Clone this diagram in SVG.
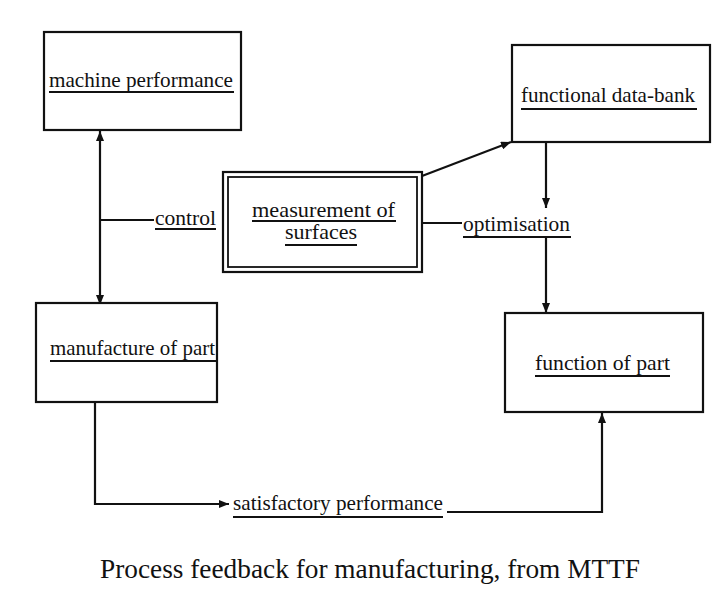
<svg xmlns="http://www.w3.org/2000/svg" width="716" height="598" viewBox="0 0 716 598">
<style>
.box{fill:#fff;stroke:#111;stroke-width:2.2}
.t{font-family:'Liberation Serif','Times New Roman',Times,serif;font-size:21px;fill:#111}
.ul{stroke:#111;stroke-width:1.8}
.c{stroke:#111;stroke-width:2.2;fill:none}
.cap{font-family:'Liberation Serif','Times New Roman',Times,serif;font-size:27px;fill:#111}
</style>
<defs>
<marker id="ah" viewBox="0 0 10 8" refX="10" refY="4" markerWidth="10" markerHeight="8" markerUnits="userSpaceOnUse" orient="auto-start-reverse">
<path d="M0,0 L10,4 L0,8 z" fill="#111"/>
</marker>
</defs>
<rect width="716" height="598" fill="#fff"/>
<g id="connectors">
<line class="c" x1="100" y1="131" x2="100" y2="305" marker-start="url(#ah)" marker-end="url(#ah)"/>
<line class="c" x1="100" y1="220" x2="154" y2="220"/>
<line class="c" x1="422" y1="223" x2="462" y2="223"/>
<line class="c" x1="422" y1="176" x2="511" y2="142" marker-end="url(#ah)"/>
<line class="c" x1="546" y1="142" x2="546" y2="208" marker-end="url(#ah)"/>
<line class="c" x1="546" y1="237" x2="546" y2="313" marker-end="url(#ah)"/>
<polyline class="c" points="95,403 95,504 229,504" marker-end="url(#ah)"/>
<polyline class="c" points="447,512 602,512 602,413" marker-end="url(#ah)"/>
<text class="t" x="155" y="225" textLength="61" lengthAdjust="spacingAndGlyphs">control</text>
<line class="ul" x1="155" y1="229" x2="216" y2="229"/>
<text class="t" x="463" y="231" textLength="107" lengthAdjust="spacingAndGlyphs">optimisation</text>
<line class="ul" x1="463" y1="237" x2="571" y2="237"/>
<text class="t" x="233" y="510" textLength="210" lengthAdjust="spacingAndGlyphs">satisfactory performance</text>
<line class="ul" x1="233" y1="517" x2="443" y2="517"/>
</g>
<g id="machine-performance">
<rect class="box" x="44" y="32" width="197" height="98"/>
<text class="t" x="49" y="87" textLength="184" lengthAdjust="spacingAndGlyphs">machine performance</text>
<line class="ul" x1="49" y1="92" x2="234" y2="92"/>
</g>
<g id="functional-data-bank">
<rect class="box" x="512" y="45" width="198" height="97"/>
<text class="t" x="521" y="102" textLength="174" lengthAdjust="spacingAndGlyphs">functional data-bank</text>
<line class="ul" x1="521" y1="109" x2="697" y2="109"/>
</g>
<g id="measurement-of-surfaces">
<rect class="box" x="223" y="172" width="199" height="100"/>
<rect x="228" y="177" width="189" height="90" fill="none" stroke="#111" stroke-width="1.8"/>
<text class="t" x="252" y="217" textLength="143" lengthAdjust="spacingAndGlyphs">measurement of</text>
<line class="ul" x1="252" y1="221" x2="396" y2="221"/>
<text class="t" x="285" y="239" textLength="72" lengthAdjust="spacingAndGlyphs">surfaces</text>
<line class="ul" x1="285" y1="245" x2="357" y2="245"/>
</g>
<g id="manufacture-of-part">
<rect class="box" x="36" y="303" width="181" height="99"/>
<text class="t" x="50" y="355" textLength="165" lengthAdjust="spacingAndGlyphs">manufacture of part</text>
<line class="ul" x1="50" y1="361" x2="216" y2="361"/>
</g>
<g id="function-of-part">
<rect class="box" x="505" y="313" width="198" height="99"/>
<text class="t" x="535" y="370" textLength="135" lengthAdjust="spacingAndGlyphs">function of part</text>
<line class="ul" x1="535" y1="376" x2="670" y2="376"/>
</g>
<text class="cap" x="100" y="578" textLength="540" lengthAdjust="spacingAndGlyphs">Process feedback for manufacturing, from MTTF</text>
</svg>
